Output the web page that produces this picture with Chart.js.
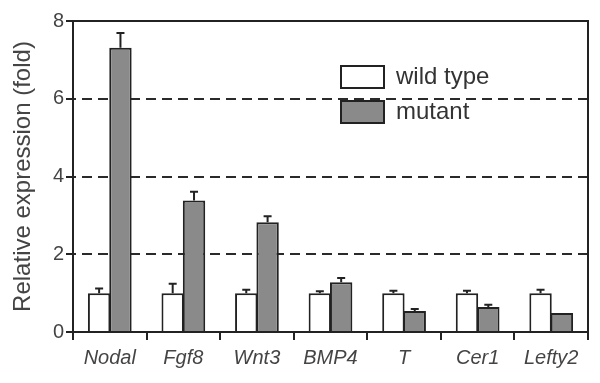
<!DOCTYPE html>
<html>
<head>
<meta charset="utf-8">
<script src="https://cdn.jsdelivr.net/npm/chart.js@4.4.1/dist/chart.umd.min.js"></script>
<style>
html,body{margin:0;padding:0;background:#fff;}
#wrap{width:600px;height:383px;position:relative;}
</style>
</head>
<body>
<div id="wrap"><canvas id="c" width="600" height="383"></canvas></div>
<script>
const categories = ['Nodal','Fgf8','Wnt3','BMP4','T','Cer1','Lefty2'];
const wildType = [1.0, 1.0, 1.0, 1.0, 1.0, 1.0, 1.0];
const wildTypeErr = [0.12, 0.24, 0.09, 0.05, 0.06, 0.06, 0.09];
const mutant = [7.31, 3.38, 2.82, 1.28, 0.54, 0.64, 0.49];
const mutantErr = [0.38, 0.23, 0.16, 0.11, 0.05, 0.06, 0.0];
const yTicks = [0, 2, 4, 6, 8];
const dashedLevels = [2, 4, 6];
const seriesNames = ['wild type', 'mutant'];
const yTitle = 'Relative expression (fold)';

const INK = '#222';
const TXT = '#444';
const GREY = '#8a8a8a';

const decor = {
  id: 'decor',
  beforeDatasetsDraw(chart) {
    const ctx = chart.ctx, a = chart.chartArea, y = chart.scales.y;
    ctx.save();
    ctx.strokeStyle = '#2a2a2a';
    ctx.lineWidth = 2;
    ctx.setLineDash([10, 6]);
    dashedLevels.forEach(v => {
      const py = Math.round(y.getPixelForValue(v));
      ctx.beginPath(); ctx.moveTo(a.left - 7, py); ctx.lineTo(a.right, py); ctx.stroke();
    });
    ctx.restore();
  },
  afterDatasetsDraw(chart) {
    const ctx = chart.ctx, a = chart.chartArea, x = chart.scales.x, y = chart.scales.y;
    ctx.save();
    // error bars
    ctx.strokeStyle = INK; ctx.lineWidth = 2; ctx.setLineDash([]);
    const errs = [wildTypeErr, mutantErr];
    chart.data.datasets.forEach((ds, di) => {
      const meta = chart.getDatasetMeta(di);
      meta.data.forEach((bar, i) => {
        const e = errs[di][i];
        if (!e) return;
        const top = y.getPixelForValue(ds.data[i] + e);
        const base = y.getPixelForValue(ds.data[i]);
        ctx.beginPath();
        ctx.moveTo(bar.x, base); ctx.lineTo(bar.x, top);
        ctx.moveTo(bar.x - 4, top); ctx.lineTo(bar.x + 4, top);
        ctx.stroke();
      });
    });
    // frame
    ctx.strokeStyle = INK; ctx.lineWidth = 2;
    ctx.strokeRect(a.left, a.top, a.right - a.left, a.bottom - a.top);
    // y tick marks
    yTicks.forEach(v => {
      const py = Math.round(y.getPixelForValue(v));
      ctx.beginPath(); ctx.moveTo(a.left - 7, py); ctx.lineTo(a.left, py); ctx.stroke();
    });
    // x tick marks at category boundaries
    for (let i = 0; i <= categories.length; i++) {
      const px = Math.round(x.getPixelForValue(i - 0.5));
      ctx.beginPath(); ctx.moveTo(px, a.bottom); ctx.lineTo(px, a.bottom + 8); ctx.stroke();
    }
    // legend
    const lx = 341, bw = 43, bh = 22;
    const rows = [{y: 66, fill: '#fff'}, {y: 101, fill: GREY}];
    rows.forEach((r, i) => {
      ctx.fillStyle = r.fill;
      ctx.fillRect(lx, r.y, bw, bh);
      ctx.strokeStyle = INK; ctx.lineWidth = 2;
      ctx.strokeRect(lx, r.y, bw, bh);
      ctx.fillStyle = '#333';
      ctx.font = '24px "Liberation Sans", Arial, sans-serif';
      ctx.textBaseline = 'middle';
      ctx.textAlign = 'left';
      ctx.fillText(seriesNames[i], 396, r.y + bh / 2);
    });
    // y title
    ctx.save();
    ctx.translate(23, (a.top + a.bottom) / 2);
    ctx.rotate(-Math.PI / 2);
    ctx.fillStyle = TXT;
    ctx.font = '24px "Liberation Sans", Arial, sans-serif';
    ctx.textAlign = 'center'; ctx.textBaseline = 'middle';
    ctx.fillText(yTitle, 0, 0);
    ctx.restore();
    ctx.restore();
  }
};

new Chart(document.getElementById('c'), {
  type: 'bar',
  data: {
    labels: categories,
    datasets: [
      {label: seriesNames[0], data: wildType, backgroundColor: '#fff', borderColor: INK, borderWidth: 2},
      {label: seriesNames[1], data: mutant, backgroundColor: GREY, borderColor: INK, borderWidth: 2}
    ]
  },
  options: {
    responsive: false,
    animation: false,
    devicePixelRatio: 1,
    layout: {padding: {top: 18, right: 12, left: 0, bottom: 0}},
    categoryPercentage: 0.58,
    barPercentage: 1.05,
    plugins: {legend: {display: false}, tooltip: {enabled: false}},
    scales: {
      x: {
        grid: {display: false, drawTicks: false},
        border: {display: false},
        ticks: {color: TXT, padding: 14, font: {family: '"Liberation Sans", Arial, sans-serif', size: 20, style: 'italic'}},
        afterFit(s) { s.height = 51; }
      },
      y: {
        min: 0, max: 8,
        grid: {display: false, drawTicks: false},
        border: {display: false},
        afterBuildTicks(s) { s.ticks = yTicks.map(v => ({value: v})); },
        ticks: {color: TXT, padding: 9, font: {family: '"Liberation Sans", Arial, sans-serif', size: 20}},
        afterFit(s) { s.width = 73; }
      }
    }
  },
  plugins: [decor]
});
</script>
</body>
</html>
